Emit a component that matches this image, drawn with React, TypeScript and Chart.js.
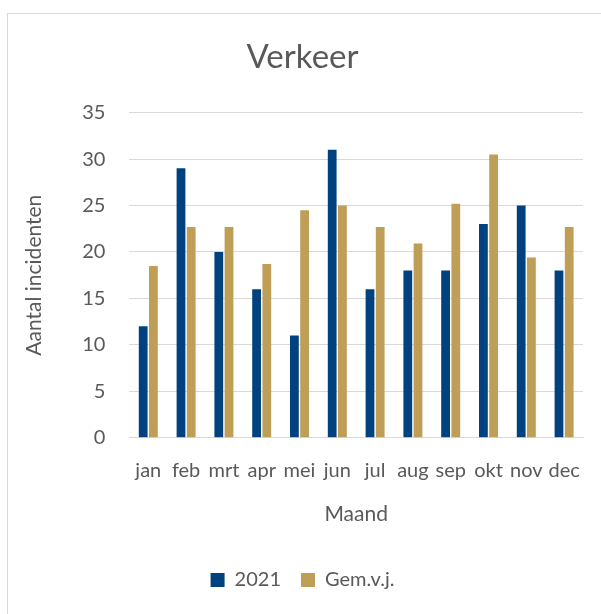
import React, { useEffect, useRef } from "react";
import { Chart, registerables } from "chart.js";

Chart.register(...registerables);

const months = ["jan", "feb", "mrt", "apr", "mei", "jun", "jul", "aug", "sep", "okt", "nov", "dec"];
const values2021 = [12, 29, 20, 16, 11, 31, 16, 18, 18, 23, 25, 18];
const valuesGem = [18.5, 22.7, 22.7, 18.7, 24.5, 25, 22.7, 20.9, 25.2, 30.5, 19.4, 22.7];
const yTicks = [0, 5, 10, 15, 20, 25, 30, 35];

const FONT = "Lato, 'Liberation Sans', sans-serif";
const GREY = "#595959";

export default function App() {
  const ref = useRef<HTMLCanvasElement | null>(null);

  useEffect(() => {
    if (!ref.current) return;
    const chart = new Chart(ref.current, {
      type: "bar",
      data: {
        labels: months,
        datasets: [
          {
            label: "2021",
            data: values2021,
            backgroundColor: "#00427f",
            categoryPercentage: 0.54,
            barPercentage: 0.86,
          },
          {
            label: "Gem.v.j.",
            data: valuesGem,
            backgroundColor: "#bf9e57",
            categoryPercentage: 0.54,
            barPercentage: 0.86,
          },
        ],
      },
      options: {
        animation: false,
        responsive: false,
        maintainAspectRatio: false,
        layout: { padding: { left: 22, right: 18, top: 38, bottom: 14 } },
        plugins: {
          title: {
            display: true,
            text: "Verkeer",
            color: GREY,
            font: { family: FONT, size: 33, weight: "normal" },
            padding: { top: 0, bottom: 35 },
          },
          legend: {
            position: "bottom",
            labels: {
              color: GREY,
              font: { family: FONT, size: 20 },
              boxWidth: 14,
              boxHeight: 14,
              padding: 20,
            },
          },
          tooltip: { enabled: false },
        },
        scales: {
          x: {
            grid: { display: false },
            border: { display: true, color: "#d9d9d9" },
            ticks: {
              color: GREY,
              font: { family: FONT, size: 20 },
              maxRotation: 0,
              autoSkip: false,
              padding: 13,
            },
            title: {
              display: true,
              text: "Maand",
              color: GREY,
              font: { family: FONT, size: 21 },
              padding: { top: 6, bottom: 23 },
            },
          },
          y: {
            min: 0,
            max: 35,
            afterBuildTicks: (axis: any) => {
              axis.ticks = yTicks.map((v) => ({ value: v }));
            },
            grid: { color: "#d9d9d9", drawTicks: false },
            border: { display: false },
            ticks: {
              color: GREY,
              font: { family: FONT, size: 20 },
              padding: 24,
            },
            title: {
              display: true,
              text: "Aantal incidenten",
              color: GREY,
              font: { family: FONT, size: 21 },
              padding: { top: 0, bottom: 11 },
            },
          },
        },
      },
    });
    return () => chart.destroy();
  }, []);

  return (
    <div style={{ position: "fixed", left: 0, top: 0, width: 601, height: 614, overflow: "hidden", background: "#fff" }}>
      <div
        style={{
          position: "absolute",
          left: 7,
          top: 13,
          width: 700,
          height: 700,
          borderLeft: "1px solid #d9d9d9",
          borderTop: "1px solid #d9d9d9",
        }}
      />
      <canvas ref={ref} width={601} height={614} style={{ position: "absolute", left: 0, top: 0 }} />
    </div>
  );
}
